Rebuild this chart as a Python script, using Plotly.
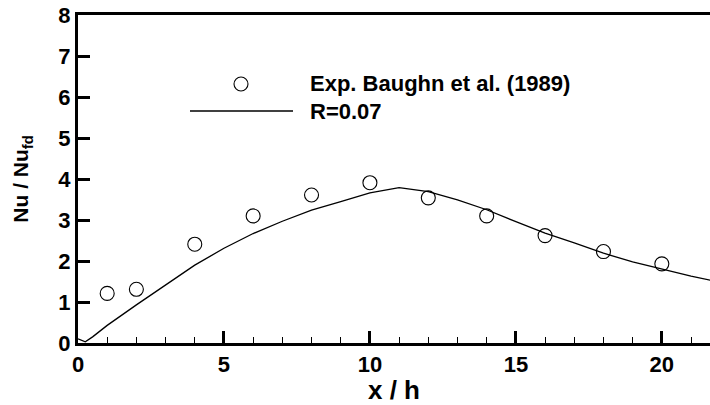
import plotly.graph_objects as go

# Experimental data (Baughn et al. 1989)
x_exp = [1, 2, 4, 6, 8, 10, 12, 14, 16, 18, 20]
nu_exp = [1.21, 1.31, 2.41, 3.10, 3.61, 3.91, 3.54, 3.10, 2.62, 2.23, 1.93]

# Computed curve R=0.07
x_line = [0.0, 0.25, 0.5, 1, 2, 3, 4, 5, 6, 7, 8, 9, 10, 11, 12, 13, 14, 15, 16, 17, 18, 19, 20, 21, 22]
nu_line = [0.10, 0.03, 0.15, 0.43, 0.93, 1.42, 1.90, 2.31, 2.67, 2.97, 3.24, 3.45, 3.66, 3.79, 3.69, 3.49, 3.25, 2.96, 2.68, 2.44, 2.19, 1.98, 1.80, 1.63, 1.48]

x_ticks = [0, 5, 10, 15, 20]
y_ticks = [0, 1, 2, 3, 4, 5, 6, 7, 8]

legend_labels = ["Exp. Baughn et al. (1989)", "R=0.07"]

FONT = "Liberation Sans, Arial, sans-serif"

fig = go.Figure()
fig.add_trace(go.Scatter(x=x_line, y=nu_line, mode="lines",
                         line=dict(color="black", width=1.3),
                         name=legend_labels[1], showlegend=False))
fig.add_trace(go.Scatter(x=x_exp, y=nu_exp, mode="markers",
                         marker=dict(symbol="circle-open", size=14, color="black",
                                     line=dict(width=1.1, color="black")),
                         name=legend_labels[0], showlegend=False))

fig.update_xaxes(
    range=[0, 21.65], tickvals=x_ticks, ticktext=[f"<b>{v}</b>" for v in x_ticks],
    ticks="inside", ticklen=12, tickwidth=2.5,
    tickcolor="black", showline=True, linewidth=3, linecolor="black", mirror=True,
    showgrid=False, zeroline=False, automargin=False,
    minor=dict(dtick=1, ticks="inside", ticklen=6, tickwidth=1.2, tickcolor="black"),
    tickfont=dict(family=FONT, size=22, color="black"),
    title=dict(text="<b>x / h</b>", font=dict(family=FONT, size=26, color="black"), standoff=2),
)
fig.update_yaxes(
    range=[0, 8], tickvals=y_ticks, ticktext=[f"<b>{v}</b>" for v in y_ticks],
    ticks="inside", ticklen=12, tickwidth=2.5,
    tickcolor="black", showline=True, linewidth=3, linecolor="black", mirror=False,
    showgrid=False, zeroline=False, automargin=False,
    tickfont=dict(family=FONT, size=22, color="black"),
    title=dict(text="<b>Nu / Nu<sub>fd</sub></b>", font=dict(family=FONT, size=21, color="black"), standoff=24),
)

# manual legend (matches original long line sample)
def px_x(p):
    return (p - 78) / 632.0

def px_y(p):
    return (343 - p) / 328.0

fig.add_shape(type="circle", xref="paper", yref="paper", xsizemode="pixel", ysizemode="pixel",
              xanchor=px_x(241), yanchor=px_y(84), x0=-7, x1=7, y0=-7, y1=7,
              line=dict(color="black", width=1.1))
fig.add_shape(type="line", xref="paper", yref="paper", x0=px_x(190), x1=px_x(293),
              y0=px_y(111), y1=px_y(111), line=dict(color="black", width=1.3))
fig.add_annotation(xref="paper", yref="paper", x=px_x(308), y=px_y(84), xanchor="left",
                   yanchor="middle", text="<b>" + legend_labels[0] + "</b>", showarrow=False,
                   font=dict(family=FONT, size=22, color="black"))
fig.add_annotation(xref="paper", yref="paper", x=px_x(308), y=px_y(111), xanchor="left",
                   yanchor="middle", text="<b>" + legend_labels[1] + "</b>", showarrow=False,
                   font=dict(family=FONT, size=22, color="black"))

fig.update_layout(
    width=710, height=405,
    margin=dict(l=78, r=0, t=15, b=62),
    paper_bgcolor="white", plot_bgcolor="white",
    showlegend=False,
)

fig.write_html("out.html", config={"displayModeBar": False},
               post_script="document.body.style.margin='0';")
